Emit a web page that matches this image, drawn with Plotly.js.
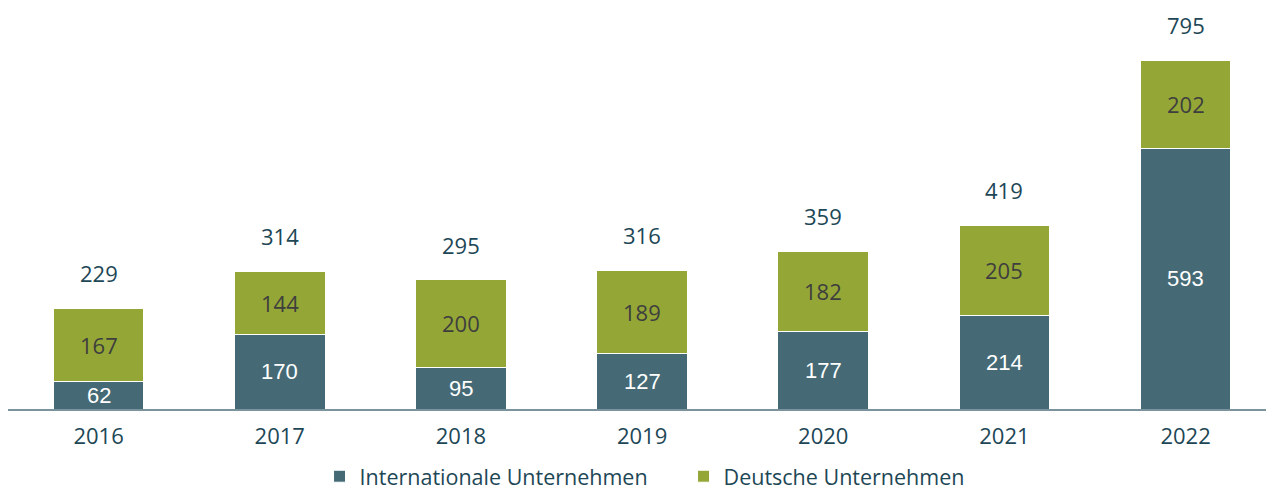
<!DOCTYPE html>
<html>
<head>
<meta charset="utf-8">
<script src="https://cdn.plot.ly/plotly-3.0.1.min.js"></script>
<style>html,body{margin:0;padding:0;background:#fff;}#chart{width:1266px;height:489px;}</style>
</head>
<body>
<div id="chart"></div>
<script>
var years = ["2016", "2017", "2018", "2019", "2020", "2021", "2022"];
var international = [62, 170, 95, 127, 177, 214, 593];
var deutsche = [167, 144, 200, 189, 182, 205, 202];
var totals = [229, 314, 295, 316, 359, 419, 795];

var tealColor = "#456a76";
var greenColor = "#94a736";
var textDark = "#1d4756";

var traces = [
  {
    type: "bar", name: "Internationale Unternehmen",
    x: years, y: international,
    marker: {color: tealColor, line: {color: "#ffffff", width: 1}},
    hoverinfo: "none"
  },
  {
    type: "bar", name: "Deutsche Unternehmen",
    x: years, y: deutsche,
    marker: {color: greenColor, line: {color: "#ffffff", width: 1}},
    hoverinfo: "none"
  }
];

var annotations = [];
years.forEach(function(yr, i) {
  annotations.push({
    x: i, y: international[i] / 2, xref: "x", yref: "y",
    text: String(international[i]), showarrow: false,
    font: {family: "Liberation Sans, Arial, sans-serif", size: 22, color: "#ffffff"},
    yanchor: "middle"
  });
  annotations.push({
    x: i, y: international[i] + deutsche[i] / 2, xref: "x", yref: "y",
    text: String(deutsche[i]), showarrow: false,
    font: {family: "Open Sans, sans-serif", size: 22, color: "#3e3e3e"},
    yanchor: "middle"
  });
  annotations.push({
    x: i, y: totals[i], xref: "x", yref: "y",
    text: String(totals[i]), showarrow: false, yshift: 35,
    font: {family: "Open Sans, sans-serif", size: 22, color: textDark},
    yanchor: "middle"
  });
});

var layout = {
  width: 1266, height: 489,
  margin: {l: 8, r: 0, t: 14, b: 80},
  paper_bgcolor: "#ffffff", plot_bgcolor: "#ffffff",
  barmode: "stack", bargap: 0.5,
  showlegend: true,
  legend: {
    orientation: "h", x: 0.537, xanchor: "center",
    yref: "container", y: 0.068, yanchor: "top",
    itemwidth: 30, entrywidth: 319, entrywidthmode: "pixels",
    font: {family: "Open Sans, sans-serif", size: 21.5, color: textDark},
    traceorder: "normal"
  },
  xaxis: {
    type: "category", range: [-0.5, 6.444],
    showgrid: false, zeroline: false,
    showline: true, linecolor: "#7a939c", linewidth: 2,
    ticks: "", ticklabelstandoff: 7,
    tickfont: {family: "Open Sans, sans-serif", size: 22, color: textDark},
    fixedrange: true
  },
  yaxis: {
    range: [0, 900], visible: false, showgrid: false, zeroline: false, fixedrange: true
  },
  annotations: annotations
};

Plotly.newPlot("chart", traces, layout, {displayModeBar: false, staticPlot: true});
</script>
</body>
</html>
